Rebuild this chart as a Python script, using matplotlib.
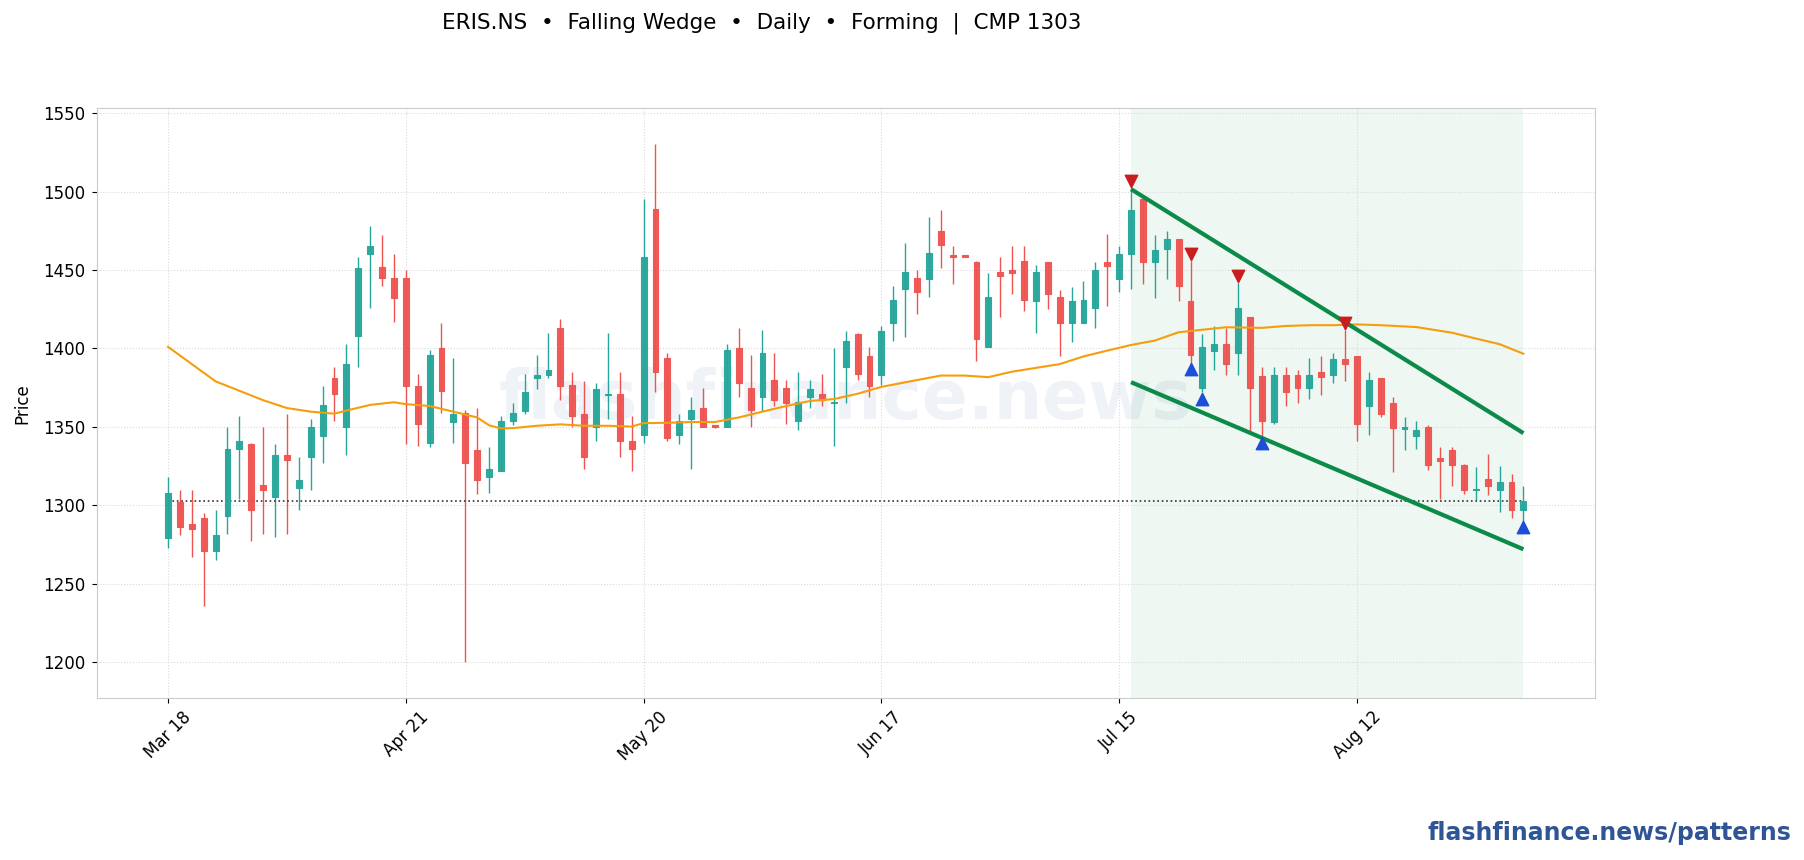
import numpy as np
import matplotlib
matplotlib.use("Agg")
import matplotlib.pyplot as plt

# Daily OHLC (index 0 = Mar 18)
opens = [1279, 1302, 1288, 1292, 1271, 1293, 1336, 1339, 1313, 1305,
         1332, 1311, 1331, 1344, 1381, 1350, 1408, 1460, 1452, 1445,
         1445, 1376, 1340, 1400, 1353, 1359, 1335, 1318, 1322, 1354,
         1360, 1381, 1383, 1413, 1377, 1358, 1350, 1370, 1371, 1341,
         1345, 1489, 1394, 1345, 1355, 1362, 1351, 1350, 1400, 1375,
         1369, 1380, 1375, 1354, 1369, 1371, 1365, 1388, 1409, 1395,
         1383, 1416, 1438, 1445, 1444, 1475, 1459, 1459, 1455, 1401,
         1449, 1450, 1456, 1430, 1455, 1433, 1416, 1416, 1426, 1455,
         1444, 1460, 1495, 1455, 1463.5, 1470, 1430, 1375, 1398.5, 1403,
         1397, 1420, 1382.5, 1353, 1383, 1383, 1375, 1385, 1383, 1393,
         1395, 1363, 1381, 1365, 1348.5, 1344.5, 1350, 1330, 1335, 1325.5,
         1309.5, 1317, 1310, 1315, 1297]
highs = [1318, 1310, 1310, 1295, 1297, 1350, 1357, 1340, 1350, 1339,
         1358, 1331, 1355, 1376, 1388, 1403, 1458, 1478, 1472, 1460,
         1450, 1384, 1399, 1416, 1394, 1361, 1362, 1337, 1357, 1365,
         1384, 1396, 1410, 1419, 1385, 1379, 1378, 1410, 1385, 1357,
         1495, 1530, 1397, 1358, 1369, 1375, 1351.5, 1403, 1413, 1396,
         1412, 1397, 1380, 1385, 1380, 1384, 1400, 1411, 1410, 1401,
         1414, 1440, 1467, 1450, 1484, 1488, 1465, 1459.5, 1456, 1448,
         1458, 1465, 1465, 1453, 1455, 1437, 1439, 1443, 1455, 1473,
         1465, 1502, 1497, 1472, 1475, 1470, 1456, 1409, 1414, 1413,
         1442, 1420, 1388, 1388, 1388, 1386, 1394, 1395, 1397, 1412,
         1395, 1385, 1381, 1369, 1356.5, 1354, 1351, 1337, 1337, 1326.5,
         1324.5, 1333, 1325, 1320, 1312]
lows = [1273, 1281, 1267, 1236, 1265, 1282, 1304, 1277, 1282, 1280,
        1282, 1297, 1310, 1327, 1354, 1332, 1388, 1426, 1440, 1417,
        1339, 1338, 1337, 1359, 1340, 1200, 1307, 1308, 1322, 1351,
        1358, 1374, 1381, 1367, 1350, 1323, 1341, 1355, 1331, 1322,
        1340, 1372, 1341, 1339, 1323, 1350, 1349.5, 1350, 1369, 1350,
        1360, 1363, 1352, 1348, 1362, 1363, 1338, 1365, 1380, 1369,
        1377, 1405, 1407, 1422, 1433, 1451, 1441, 1458, 1392, 1401,
        1420, 1435, 1424, 1410, 1425, 1395, 1404, 1416, 1413, 1427,
        1436, 1438, 1441, 1432, 1444.5, 1430, 1391, 1372, 1386, 1383,
        1383, 1347, 1344, 1352, 1363, 1365, 1368, 1370, 1378, 1379,
        1341, 1345, 1356, 1321, 1335, 1336, 1322.5, 1304, 1312, 1307,
        1303.5, 1306.5, 1295.5, 1292, 1290]
closes = [1308, 1286, 1285, 1271, 1281, 1336, 1341, 1297, 1310, 1332,
          1329, 1316, 1350, 1364, 1371, 1390, 1451, 1465, 1445, 1432,
          1376, 1352, 1396, 1373, 1358, 1327, 1316, 1323, 1354, 1359,
          1372, 1383, 1386, 1376, 1357, 1331, 1374, 1371, 1341, 1336,
          1458, 1385, 1343, 1354, 1361, 1350, 1350, 1399, 1378, 1361,
          1397, 1367, 1365, 1366, 1374, 1367, 1366, 1405, 1384, 1376,
          1411, 1431, 1449, 1436, 1461, 1466, 1458.5, 1458.5, 1406, 1433,
          1446, 1448, 1431, 1449, 1435, 1416, 1430, 1431, 1450, 1452.5,
          1460, 1488.5, 1455, 1463, 1470, 1440, 1396, 1401, 1403, 1390,
          1426, 1375, 1354, 1383, 1372.5, 1375, 1383, 1382, 1393, 1390,
          1352, 1380, 1358, 1349, 1350, 1348, 1325.5, 1328, 1325.5, 1310,
          1310.5, 1312.5, 1315, 1297, 1303]

# moving average, read at a handful of candles
ma_idx = [0, 2, 4, 6, 8, 10, 12, 14, 15, 17, 19, 20, 22, 24, 26, 27, 28, 29,
          31, 33, 35, 37, 39, 40, 42, 44, 46, 48, 50, 52, 54, 56, 58, 60,
          62, 65, 67, 69, 71, 72, 75, 77, 79, 81, 83, 85, 87, 89, 92, 94,
          96, 98, 100, 102, 105, 106, 108, 110, 112, 114]
ma_val = [1401, 1390, 1379, 1373, 1367, 1362, 1359.7, 1358.4, 1360.4, 1364,
          1365.7, 1364.5, 1363.3, 1359.7, 1356, 1351, 1349, 1349.2,
          1350.7, 1351.6, 1350.7, 1350.7, 1350.2, 1352.4, 1352.6, 1353.1,
          1353.1, 1356, 1359.7, 1363.3, 1366.5, 1367.7, 1371.1, 1375.5,
          1378.4, 1382.7, 1382.7, 1381.7, 1385.2, 1386.4, 1390, 1394.9,
          1398.6, 1402.2, 1405, 1410.3, 1411.9, 1413.5, 1413.1, 1414.3,
          1414.8, 1414.8, 1415.3, 1414.8, 1413.6, 1412.4, 1410, 1406.3,
          1402.7, 1396.6]

# pattern
pivot_highs = [81, 86, 90, 99]
pivot_lows = [86, 87, 92, 114]
upper_x = [81, 114]
upper_y = [1501.5, 1346]
lower_x = [81, 114]
lower_y = [1378.5, 1272]
cmp_price = 1303

tick_pos = [0, 20, 40, 60, 80, 100]
tick_labels = ["Mar 18", "Apr 21", "May 20", "Jun 17", "Jul 15", "Aug 12"]

UP = "#26a69a"
DOWN = "#ef5350"

o = np.array(opens, dtype=float)
h = np.array(highs, dtype=float)
l = np.array(lows, dtype=float)
c = np.array(closes, dtype=float)
x = np.arange(len(o))
colors = np.where(c >= o, UP, DOWN)

fig = plt.figure(figsize=(18.04, 8.6), dpi=100)
ax = fig.add_axes([0.0536, 0.188, 0.8304, 0.686])

ax.text(0.5, 0.505, "flashfinance.news", transform=ax.transAxes,
        ha="center", va="center", fontsize=49, fontweight="bold",
        color="#1f4e9a", alpha=0.07, zorder=0)

ax.axvspan(upper_x[0], upper_x[1], color="#2e9e5b", alpha=0.08, lw=0, zorder=0.5)

ax.vlines(x, l, h, colors=colors, linewidth=1.0, zorder=2)
body = np.maximum(np.abs(c - o), 0.8)
ax.bar(x, body, bottom=np.minimum(o, c), width=0.5, color=colors,
       edgecolor=colors, linewidth=0.8, zorder=3, alpha=0.95)

ax.plot(ma_idx, ma_val, color="#f59e0b", linewidth=1.5, zorder=4)

ax.hlines(cmp_price, 0, len(o) - 1, colors="#333333", linestyles=":", linewidth=1.2, zorder=2.5)

ax.plot(upper_x, upper_y, color="#0b8a48", linewidth=3, zorder=5, solid_capstyle="butt")
ax.plot(lower_x, lower_y, color="#0b8a48", linewidth=3, zorder=5, solid_capstyle="butt")

ax.scatter(pivot_highs, h[pivot_highs] * 1.003, marker="v", s=80, color="#c81e1e", zorder=6)
ax.scatter(pivot_lows, l[pivot_lows] * 0.997, marker="^", s=80, color="#1d4ed8", zorder=6)

ax.set_xlim(-6, 120)
ax.set_ylim(1177, 1553)
ax.set_xticks(tick_pos)
ax.set_xticklabels(tick_labels, rotation=45, fontsize=12)
ax.set_yticks(np.arange(1200, 1551, 50))
ax.tick_params(axis="y", labelsize=12, pad=5)
ax.set_ylabel("Price", fontsize=12, labelpad=8)
ax.grid(True, linestyle=":", color="#d9d9d9", linewidth=0.8)
ax.set_axisbelow(True)
for s in ax.spines.values():
    s.set_color("#cccccc")

fig.text(0.422, 0.985, "ERIS.NS  •  Falling Wedge  •  Daily  •  Forming  |  CMP 1303",
         ha="center", va="top", fontsize=15.5)
fig.text(0.993, 0.018, "flashfinance.news/patterns", ha="right", va="bottom",
         fontsize=17, fontweight="bold", color="#2f5597")

fig.savefig("out.png", dpi=100)
